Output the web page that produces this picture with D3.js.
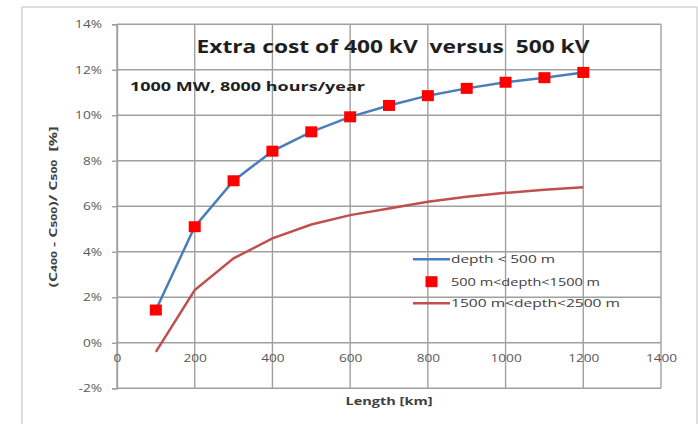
<!DOCTYPE html>
<html><head><meta charset="utf-8">
<script src="https://cdn.jsdelivr.net/npm/d3@7/dist/d3.min.js"></script>
<style>
html,body{margin:0;padding:0;background:#fff;}
svg{display:block;font-family:"Open Sans",sans-serif;}
text{white-space:pre;}
</style></head>
<body>
<svg id="c" width="698" height="424"></svg>
<script>
// ---- data ----
const lengths = [100,200,300,400,500,600,700,800,900,1000,1100,1200];
const shallow = [1.44,5.10,7.12,8.42,9.27,9.93,10.43,10.86,11.18,11.45,11.65,11.88]; // depth < 500 m
const middle  = [1.44,5.10,7.12,8.42,9.27,9.93,10.43,10.86,11.18,11.45,11.65,11.88]; // 500 m<depth<1500 m
const deep    = [-0.40,2.32,3.71,4.59,5.20,5.61,5.90,6.20,6.42,6.59,6.72,6.84]; // 1500 m<depth<2500 m
const xTicks = [0,200,400,600,800,1000,1200,1400];
const yTicks = [-2,0,2,4,6,8,10,12,14];
const seriesNames = ["depth < 500 m","500 m<depth<1500 m","1500 m<depth<2500 m"];
const titleText = "Extra cost of 400 kV  versus  500 kV";
const subtitleText = "1000 MW, 8000 hours/year";

const svg = d3.select("#c");
const x = d3.scaleLinear().domain([0,1400]).range([117,661]);
const y = d3.scaleLinear().domain([-2,14]).range([388.3,24.2]);

function stretch(sel, w){ sel.attr("textLength", w).attr("lengthAdjust","spacingAndGlyphs"); }

// outer chart border
svg.append("rect").attr("x",22).attr("y",7).attr("width",675).attr("height",430)
  .attr("fill","none").attr("stroke","#c8c8c8").attr("stroke-width",1.2);

const gridColor = "#a0a0a0";
// grid
svg.append("g").selectAll("line").data(yTicks).join("line")
  .attr("x1",x(0)).attr("x2",x(1400)).attr("y1",d=>y(d)).attr("y2",d=>y(d))
  .attr("stroke",gridColor).attr("stroke-width",1.4);
svg.append("g").selectAll("line").data(xTicks).join("line")
  .attr("x1",d=>x(d)).attr("x2",d=>x(d)).attr("y1",y(-2)).attr("y2",y(14))
  .attr("stroke",gridColor).attr("stroke-width",1.4);

// y axis
const yAxis = svg.append("g").attr("transform",`translate(${x(0)},0)`)
  .call(d3.axisLeft(y).tickValues(yTicks).tickFormat(d=>d+"%").tickSize(5).tickPadding(10));
yAxis.select(".domain").attr("stroke",gridColor).attr("stroke-width",1.4);
yAxis.selectAll(".tick line").attr("stroke",gridColor).attr("stroke-width",1.4);
yAxis.selectAll(".tick text").attr("fill","#595959").attr("font-size",10.5)
  .attr("font-family","'Open Sans',sans-serif").each(function(){
    const t=d3.select(this); const w=this.getComputedTextLength(); stretch(t,w*1.3);
  });

// x axis labels (at 0% line)
const xAxis = svg.append("g").attr("transform",`translate(0,${y(0)})`)
  .call(d3.axisBottom(x).tickValues(xTicks).tickFormat(d3.format("d")).tickSize(0).tickPadding(12));
xAxis.select(".domain").remove();
xAxis.selectAll(".tick text").attr("fill","#595959").attr("font-size",10.5)
  .attr("font-family","'Open Sans',sans-serif").each(function(){
    const t=d3.select(this); const w=this.getComputedTextLength(); stretch(t,w*1.3);
  });

// lines
const line = d3.line().x(d=>x(d[0])).y(d=>y(d[1]));
svg.append("path").datum(lengths.map((l,i)=>[l,deep[i]])).attr("d",line)
  .attr("fill","none").attr("stroke","#c0504d").attr("stroke-width",2.5);
svg.append("path").datum(lengths.map((l,i)=>[l,shallow[i]])).attr("d",line)
  .attr("fill","none").attr("stroke","#4a7ebb").attr("stroke-width",2.5);
// markers
const ms = 11;
svg.append("g").selectAll("rect").data(lengths.map((l,i)=>[l,middle[i]])).join("rect")
  .attr("x",d=>x(d[0])-ms/2-0.5).attr("y",d=>y(d[1])-ms/2).attr("width",ms+1).attr("height",ms)
  .attr("fill","#ff0000");

// title
const title = svg.append("text").attr("x",393).attr("y",53).attr("text-anchor","middle")
  .attr("font-size",17.5).attr("font-weight","bold").attr("fill","#1f1f1f").text(titleText);
stretch(title,393);
const sub = svg.append("text").attr("x",130).attr("y",91)
  .attr("font-size",12.5).attr("font-weight","bold").attr("fill","#1f1f1f").text(subtitleText);
stretch(sub,235);

// axis titles
const xt = svg.append("text").attr("x",389).attr("y",405).attr("text-anchor","middle")
  .attr("font-size",10.5).attr("font-weight","bold").attr("fill","#404040").text("Length [km]");
stretch(xt,87);
const yt = svg.append("text").attr("transform","translate(57,207) rotate(-90)").attr("text-anchor","middle")
  .attr("font-size",10.5).attr("font-weight","bold").attr("fill","#404040");
yt.append("tspan").text("(C");
yt.append("tspan").attr("font-size",8).text("400");
yt.append("tspan").text(" - C");
yt.append("tspan").attr("font-size",8).text("500");
yt.append("tspan").text(")/ C");
yt.append("tspan").attr("font-size",8).text("500");
yt.append("tspan").text("  [%]");
stretch(yt,161);

// legend
const lg = svg.append("g");
const ly = [259.3, 281.7, 303.3];
lg.append("line").attr("x1",413).attr("x2",450).attr("y1",ly[0]).attr("y2",ly[0])
  .attr("stroke","#4a7ebb").attr("stroke-width",2.5);
lg.append("rect").attr("x",431.5-6).attr("y",ly[1]-5.5).attr("width",12).attr("height",11).attr("fill","#ff0000");
lg.append("line").attr("x1",413).attr("x2",450).attr("y1",ly[2]).attr("y2",ly[2])
  .attr("stroke","#c0504d").attr("stroke-width",2.5);
const lw = [104,149,169];
seriesNames.forEach((n,i)=>{
  const t = lg.append("text").attr("x",451).attr("y",ly[i]).attr("dy","0.35em")
    .attr("font-size",11).attr("fill","#404040").text(n);
  stretch(t,lw[i]);
});
</script>
</body></html>
